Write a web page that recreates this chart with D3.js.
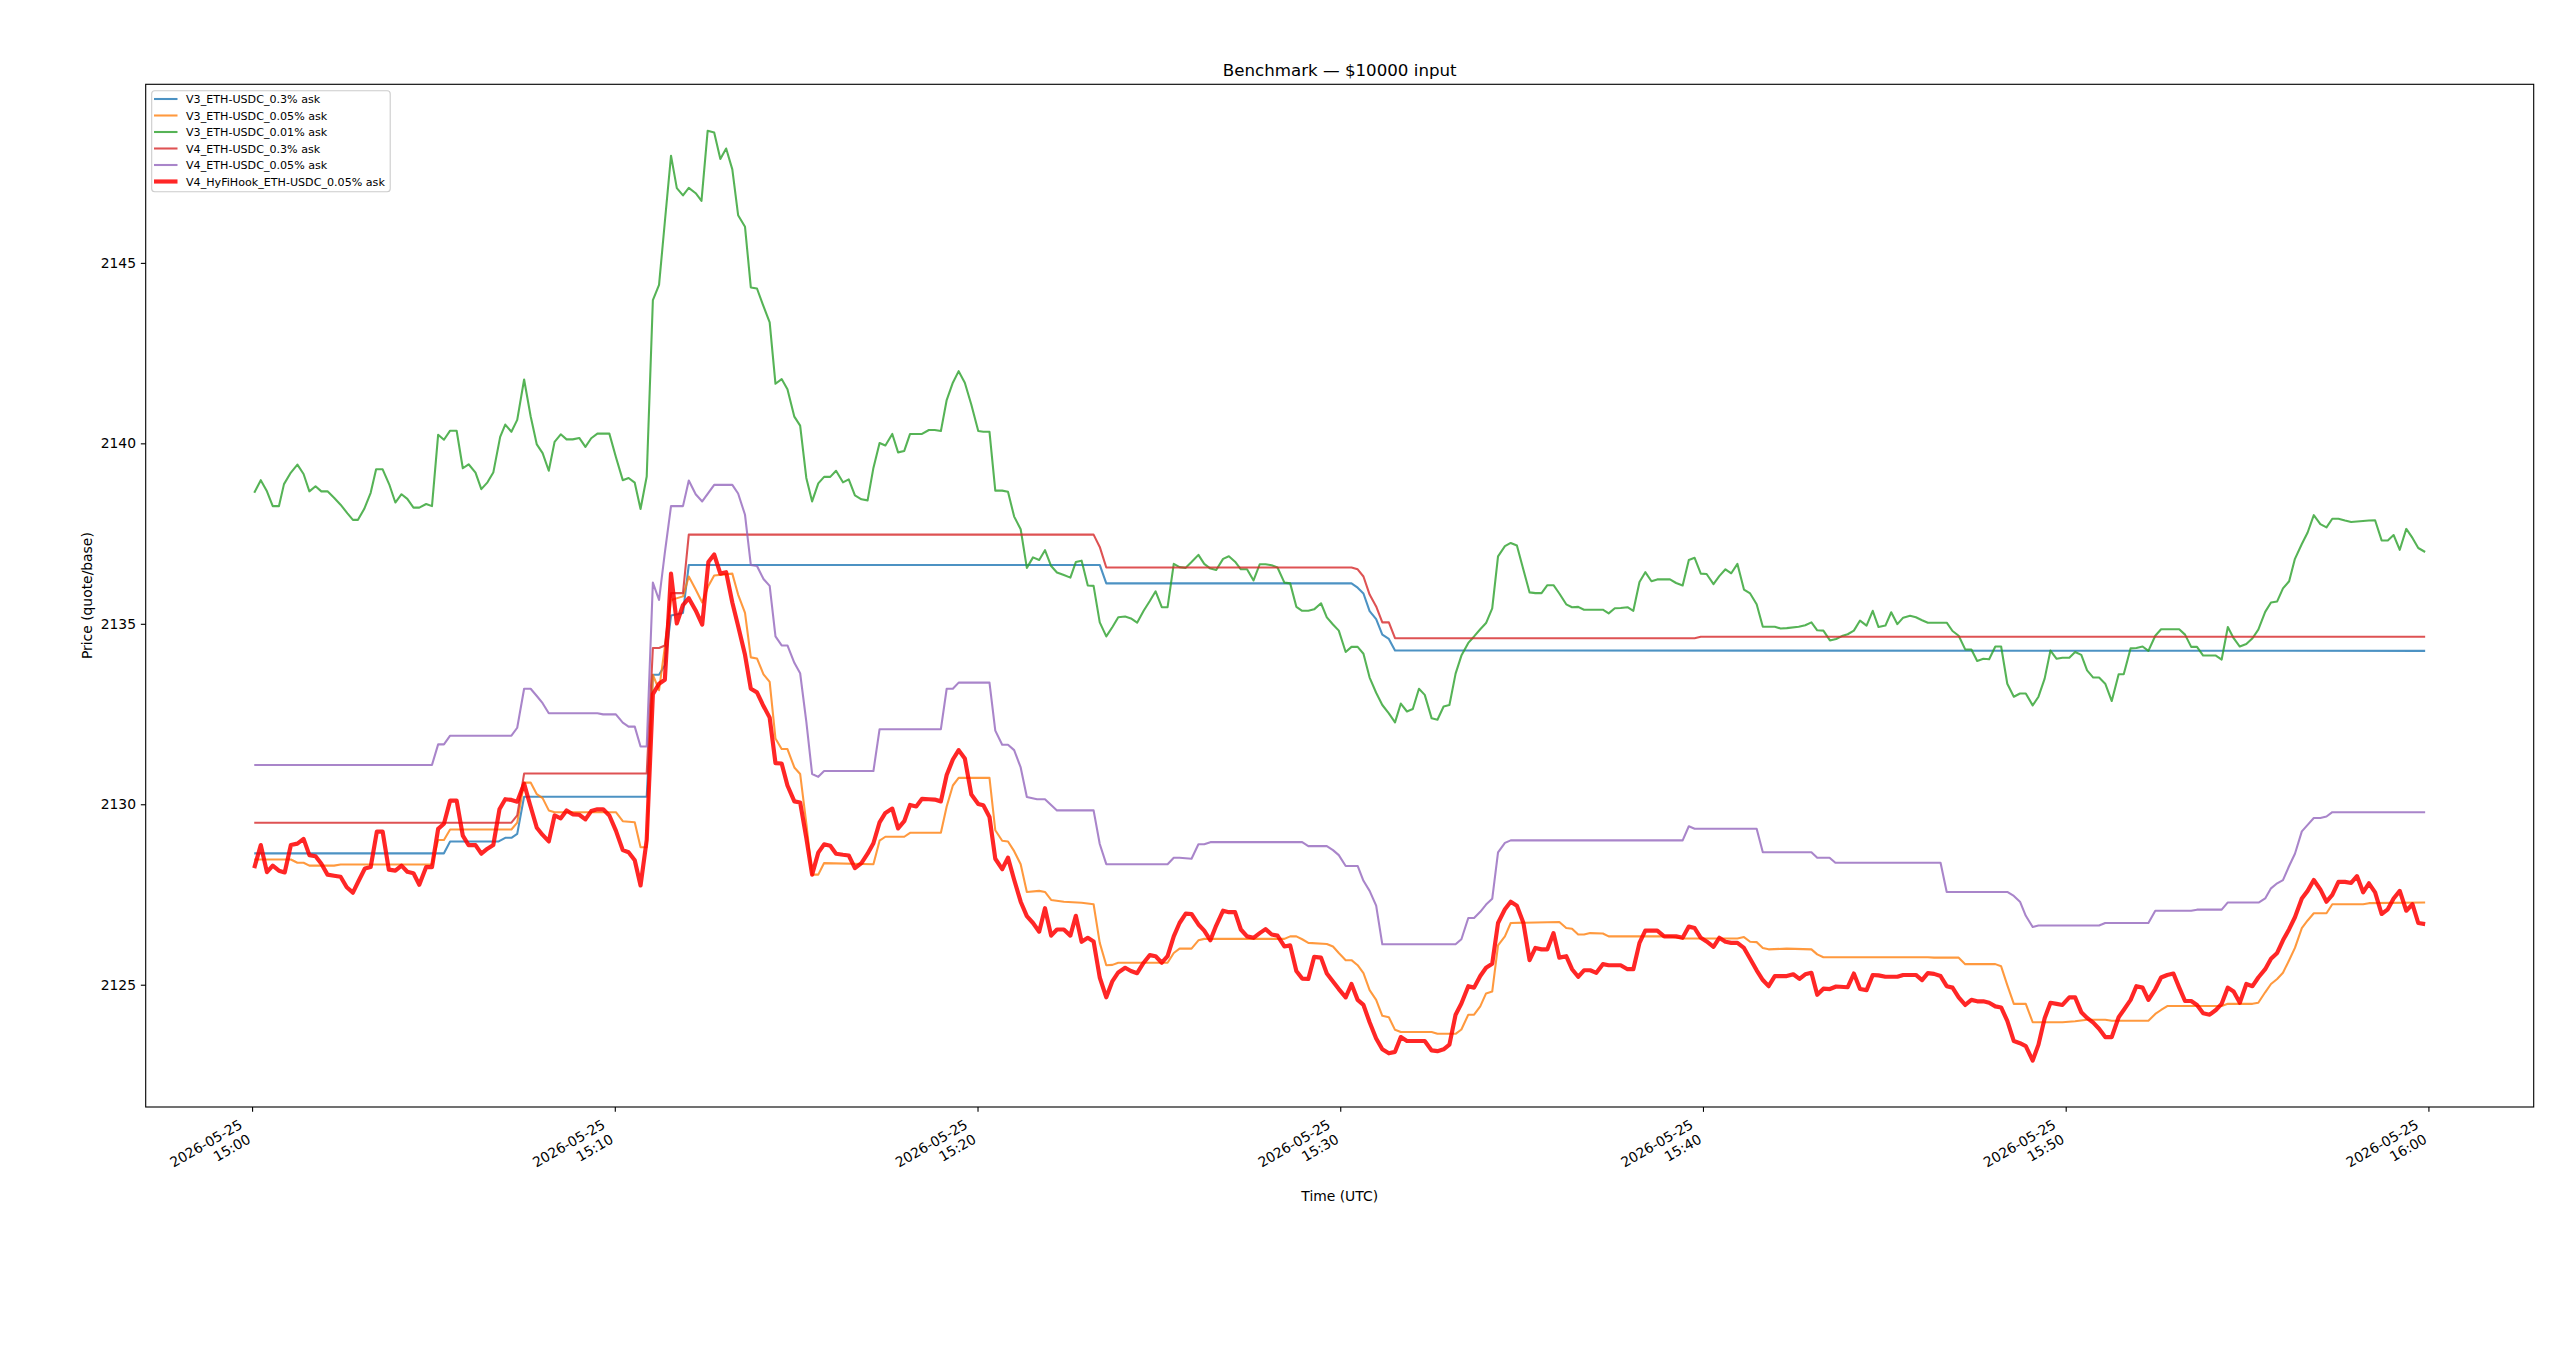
<!DOCTYPE html>
<html>
<head>
<meta charset="utf-8">
<script src="https://cdn.jsdelivr.net/npm/d3@7"></script>
<style>
  html, body { margin: 0; padding: 0; background: #fff; }
  svg { display: block; font-family: "DejaVu Sans", sans-serif; }
</style>
</head>
<body>
<svg id="chart" width="2560" height="1357"></svg>
<script>
// minutes after 2026-05-25 15:00 UTC, price (quote/base)
const v3_03 = [[0.06,2128.64],[5.29,2128.64],[5.46,2128.97],[6.8,2128.97],[6.98,2129.07],[7.15,2129.07],[7.31,2129.18],[7.5,2130.21],[10.88,2130.21],[11.05,2133.59],[11.22,2133.59],[11.38,2133.85],[11.55,2135.23],[11.88,2135.3],[12.04,2136.63],[23.37,2136.63],[23.55,2136.12],[30.31,2136.12],[30.48,2136.0],[30.64,2135.84],[30.81,2135.35],[30.99,2135.13],[31.16,2134.7],[31.34,2134.58],[31.51,2134.26],[59.91,2134.25]];

const v3_005 = [[0.06,2128.47],[1.07,2128.47],[1.25,2128.38],[1.42,2128.38],[1.58,2128.3],[2.26,2128.3],[2.44,2128.33],[4.96,2128.33],[5.13,2129.01],[5.29,2129.01],[5.46,2129.3],[7.15,2129.3],[7.31,2129.49],[7.5,2130.6],[7.68,2130.6],[7.85,2130.28],[8.01,2130.17],[8.18,2129.83],[8.34,2129.78],[10.03,2129.78],[10.22,2129.53],[10.55,2129.5],[10.71,2128.81],[10.88,2128.81],
  [11.05,2133.59],[11.22,2133.16],[11.38,2134.36],[11.55,2135.66],[11.88,2135.76],[12.04,2136.31],[12.23,2135.95],[12.41,2135.59],[12.58,2136.05],[12.74,2136.34],[13.24,2136.39],[13.4,2135.81],[13.59,2135.3],[13.75,2134.07],[13.92,2134.04],[14.1,2133.6],[14.27,2133.39],[14.43,2131.82],[14.6,2131.53],[14.76,2131.53],[14.95,2131.02],[15.11,2130.84],[15.28,2129.47],[15.44,2128.05],[15.61,2128.05],[15.77,2128.37],[17.13,2128.34],[17.3,2128.99],[17.46,2129.1],[17.98,2129.1],[18.14,2129.21],[18.99,2129.21],[19.15,2129.94],[19.32,2130.52],[19.48,2130.73],[20.33,2130.73],[20.49,2129.28],[20.68,2128.99],[20.84,2128.97],[21.01,2128.7],[21.19,2128.34],[21.36,2127.57],
  [21.7,2127.6],[21.86,2127.57],[22.03,2127.35],[22.38,2127.3],[22.87,2127.27],[23.2,2127.23],[23.37,2126.16],[23.55,2125.54],[23.72,2125.55],[23.88,2125.61],[25.24,2125.61],[25.41,2125.88],[25.57,2126.0],[25.9,2126.0],[26.09,2126.23],[26.25,2126.27],[28.46,2126.27],[28.62,2126.34],[28.79,2126.34],[28.95,2126.26],[29.12,2126.16],[29.63,2126.13],[29.8,2126.06],[29.96,2125.88],[30.15,2125.68],[30.31,2125.68],[30.48,2125.54],[30.64,2125.32],[30.81,2124.85],[30.99,2124.58],[31.16,2124.14],[31.34,2124.1],[31.51,2123.75],[31.67,2123.69],
  [32.52,2123.69],[32.68,2123.64],[33.18,2123.64],[33.34,2123.76],[33.53,2124.17],[33.69,2124.17],[33.86,2124.4],[34.02,2124.76],[34.19,2124.81],[34.35,2126.09],[34.54,2126.34],[34.7,2126.71],[36.04,2126.74],[36.23,2126.57],[36.39,2126.55],[36.56,2126.39],[36.72,2126.39],[36.89,2126.43],[37.24,2126.42],[37.4,2126.34],[39.09,2126.34],[39.44,2126.28],[40.95,2126.28],[41.13,2126.32],[41.3,2126.19],[41.48,2126.18],[41.65,2126.02],[41.81,2125.98],[42.31,2126.0],
  [42.99,2125.98],[43.15,2125.84],[43.32,2125.76],[46.2,2125.76],[46.37,2125.75],[47.05,2125.75],[47.23,2125.57],[48.06,2125.57],[48.22,2125.51],[48.39,2124.99],[48.57,2124.47],[48.9,2124.47],[49.09,2123.96],[49.91,2123.96],[50.26,2123.99],[50.59,2124.03],[51.09,2124.03],[51.27,2124.0],[52.28,2124.0],[52.47,2124.19],[52.63,2124.3],[52.8,2124.41],
  [54.3,2124.41],[54.47,2124.47],[55.15,2124.47],[55.31,2124.5],[55.5,2124.79],[55.66,2125.02],[55.83,2125.16],[55.99,2125.33],[56.16,2125.68],[56.32,2126.02],[56.51,2126.57],[56.67,2126.78],[56.84,2126.98],[57.19,2126.98],[57.35,2127.23],[58.2,2127.23],[58.36,2127.26],[59.91,2127.28]];

const v3_001 = [[0.06,2138.63],[0.24,2138.98],[0.41,2138.67],[0.57,2138.26],[0.74,2138.26],[0.88,2138.87],[1.07,2139.19],[1.25,2139.41],[1.42,2139.15],[1.58,2138.67],[1.75,2138.81],[1.91,2138.67],[2.08,2138.67],[2.26,2138.49],[2.44,2138.3],[2.63,2138.06],[2.78,2137.88],[2.92,2137.88],[3.09,2138.18],[3.27,2138.63],[3.42,2139.28],[3.6,2139.28],[3.79,2138.84],[3.95,2138.36],[4.12,2138.59],[4.28,2138.46],[4.45,2138.22],[4.61,2138.22],[4.8,2138.32],[4.96,2138.26],[5.13,2140.24],[5.29,2140.1],[5.46,2140.35],[5.64,2140.35],[5.81,2139.31],[5.97,2139.42],[6.16,2139.19],[6.32,2138.73],[6.49,2138.92],[6.65,2139.19],[6.84,2140.18],[6.98,2140.52],[7.15,2140.32],[7.31,2140.65],[7.5,2141.77],[7.68,2140.75],[7.85,2139.97],[8.01,2139.73],[8.18,2139.24],[8.34,2140.04],[8.51,2140.25],[8.67,2140.11],[8.84,2140.11],[9.02,2140.15],[9.19,2139.9],[9.35,2140.14],[9.52,2140.27],[9.68,2140.27],[9.85,2140.27],[10.03,2139.62],[10.22,2138.98],[10.38,2139.04],[10.55,2138.91],[10.71,2138.18],[10.88,2139.08],
  [11.05,2143.97],[11.22,2144.39],[11.38,2146.14],[11.55,2147.97],[11.71,2147.07],[11.88,2146.87],[12.04,2147.08],[12.23,2146.93],[12.39,2146.72],[12.56,2148.66],[12.74,2148.61],[12.91,2147.88],[13.07,2148.17],[13.24,2147.59],[13.4,2146.32],[13.59,2146.0],[13.75,2144.32],[13.92,2144.29],[14.08,2143.85],[14.27,2143.35],[14.43,2141.65],[14.6,2141.78],[14.76,2141.5],[14.95,2140.74],[15.11,2140.49],[15.28,2139.04],[15.44,2138.39],[15.61,2138.89],[15.77,2139.07],[15.94,2139.07],[16.1,2139.24],[16.29,2138.92],[16.45,2139.0],[16.62,2138.56],[16.8,2138.45],[16.97,2138.42],[17.13,2139.32],[17.3,2140.01],[17.46,2139.94],[17.65,2140.26],[17.81,2139.75],[17.98,2139.79],[18.14,2140.26],[18.31,2140.26],[18.47,2140.26],[18.66,2140.37],[18.82,2140.37],[18.99,2140.34],[19.15,2141.2],[19.32,2141.68],[19.48,2142.0],[19.65,2141.68],[19.83,2141.07],[20.02,2140.34],[20.16,2140.32],[20.33,2140.32],[20.49,2138.69],[20.68,2138.69],[20.84,2138.66],[21.01,2137.97],[21.19,2137.62],[21.36,2136.55],[21.53,2136.84],
  [21.7,2136.77],[21.86,2137.04],[22.03,2136.6],[22.19,2136.42],[22.38,2136.35],[22.56,2136.28],[22.71,2136.71],[22.87,2136.75],[23.04,2136.06],[23.2,2136.05],[23.37,2135.04],[23.55,2134.65],[23.72,2134.91],[23.88,2135.18],[24.07,2135.2],[24.23,2135.15],[24.4,2135.03],[24.58,2135.36],[24.75,2135.63],[24.91,2135.9],[25.08,2135.46],[25.24,2135.46],[25.41,2136.66],[25.57,2136.57],[25.74,2136.55],[25.9,2136.71],[26.09,2136.91],[26.25,2136.66],[26.42,2136.53],[26.58,2136.49],[26.77,2136.8],[26.93,2136.87],[27.1,2136.72],[27.26,2136.51],[27.43,2136.51],[27.61,2136.2],[27.78,2136.65],[27.94,2136.65],[28.11,2136.62],[28.27,2136.56],[28.46,2136.14],[28.62,2136.12],[28.79,2135.47],[28.95,2135.36],[29.12,2135.36],[29.28,2135.4],[29.47,2135.57],[29.63,2135.18],[29.8,2134.98],[29.96,2134.81],[30.15,2134.22],[30.31,2134.36],[30.48,2134.36],[30.64,2134.17],[30.81,2133.51],[30.99,2133.09],[31.16,2132.75],[31.34,2132.52],[31.51,2132.27],[31.67,2132.79],[31.84,2132.57],[32.0,2132.64],
  [32.17,2133.2],[32.33,2133.03],[32.52,2132.38],[32.68,2132.34],[32.85,2132.71],[33.01,2132.75],[33.18,2133.62],[33.34,2134.12],[33.53,2134.47],[33.69,2134.65],[33.86,2134.85],[34.02,2135.02],[34.19,2135.43],[34.35,2136.87],[34.54,2137.15],[34.7,2137.24],[34.87,2137.17],[35.05,2136.5],[35.22,2135.87],[35.38,2135.85],[35.55,2135.85],[35.71,2136.07],[35.88,2136.07],[36.04,2135.84],[36.23,2135.54],[36.39,2135.46],[36.56,2135.47],[36.72,2135.39],[37.24,2135.39],[37.4,2135.29],[37.57,2135.43],[37.73,2135.44],[37.92,2135.46],[38.08,2135.36],[38.25,2136.16],[38.41,2136.43],[38.58,2136.18],[38.74,2136.23],[39.09,2136.23],[39.26,2136.13],[39.44,2136.06],[39.61,2136.77],[39.77,2136.83],[39.94,2136.39],[40.1,2136.38],[40.29,2136.1],[40.45,2136.32],[40.62,2136.51],[40.78,2136.4],[40.95,2136.66],[41.13,2135.95],[41.3,2135.84],[41.48,2135.54],[41.65,2134.92],[41.98,2134.92],[42.14,2134.87],[42.31,2134.88],
  [42.64,2134.92],[42.82,2134.96],[42.99,2135.04],[43.15,2134.82],[43.32,2134.81],[43.5,2134.54],[43.67,2134.58],[43.83,2134.66],[43.99,2134.71],[44.16,2134.81],[44.33,2135.09],[44.51,2134.95],[44.68,2135.36],[44.84,2134.91],[45.03,2134.95],[45.19,2135.32],[45.36,2134.99],[45.52,2135.17],[45.71,2135.22],[45.87,2135.18],[46.04,2135.1],[46.2,2135.03],[46.72,2135.03],[46.88,2134.8],[47.05,2134.67],[47.23,2134.29],[47.4,2134.29],[47.56,2133.97],[47.73,2134.03],[47.89,2134.02],[48.06,2134.37],[48.22,2134.37],[48.39,2133.34],[48.57,2132.98],[48.74,2133.07],[48.9,2133.07],[49.09,2132.74],[49.25,2132.98],[49.42,2133.48],[49.58,2134.26],[49.75,2134.03],[49.91,2134.06],[50.1,2134.06],[50.26,2134.22],[50.43,2134.14],[50.59,2133.71],[50.76,2133.51],[50.92,2133.51],[51.09,2133.34],[51.27,2132.86],[51.46,2133.6],[51.6,2133.6],[51.79,2134.32],[51.95,2134.33],[52.12,2134.37],[52.28,2134.25],[52.47,2134.67],[52.63,2134.85],[52.8,2134.85],[53.13,2134.85],
  [53.29,2134.7],[53.46,2134.36],[53.62,2134.36],[53.79,2134.12],[54.14,2134.12],[54.3,2134.01],[54.47,2134.91],[54.63,2134.6],[54.8,2134.37],[54.98,2134.44],[55.15,2134.6],[55.31,2134.84],[55.5,2135.33],[55.66,2135.59],[55.83,2135.62],[55.99,2135.98],[56.16,2136.18],[56.32,2136.8],[56.51,2137.21],[56.67,2137.53],[56.84,2138.01],[57.02,2137.76],[57.19,2137.67],[57.35,2137.91],[57.52,2137.91],[57.7,2137.86],[57.87,2137.82],[58.36,2137.86],[58.53,2137.87],[58.71,2137.31],[58.88,2137.31],[59.04,2137.46],[59.21,2137.05],[59.39,2137.63],[59.56,2137.38],[59.72,2137.1],[59.91,2136.99]];

const v4_03 = [[0.06,2129.49],[7.15,2129.49],[7.31,2129.69],[7.5,2130.85],[10.88,2130.85],[11.05,2134.33],[11.22,2134.33],[11.38,2134.4],[11.55,2135.85],[11.88,2135.85],[12.04,2137.47],[23.2,2137.47],[23.37,2137.13],[23.55,2136.56],[30.31,2136.56],[30.48,2136.51],[30.64,2136.31],[30.81,2135.81],[30.99,2135.48],[31.16,2135.04],[31.34,2135.04],[31.51,2134.6],[39.77,2134.6],[39.94,2134.64],[59.91,2134.64]];

const v4_005 = [[0.06,2131.09],[4.96,2131.09],[5.13,2131.66],[5.29,2131.66],[5.46,2131.9],[7.15,2131.9],[7.31,2132.12],[7.5,2133.2],[7.68,2133.2],[7.85,2133.0],[8.01,2132.8],[8.18,2132.52],[9.52,2132.52],[9.68,2132.49],[10.03,2132.49],[10.22,2132.26],[10.38,2132.15],[10.55,2132.15],[10.71,2131.6],[10.88,2131.6],
  [11.05,2136.14],[11.22,2135.66],[11.38,2136.97],[11.55,2138.26],[11.88,2138.26],[12.04,2138.97],[12.23,2138.59],[12.41,2138.39],[12.58,2138.63],[12.74,2138.85],[13.24,2138.85],[13.4,2138.61],[13.59,2138.02],[13.75,2136.63],[13.92,2136.6],[14.1,2136.24],[14.27,2136.05],[14.43,2134.65],[14.6,2134.4],[14.76,2134.4],[14.95,2133.92],[15.11,2133.63],[15.28,2132.29],[15.44,2130.84],[15.61,2130.76],[15.77,2130.92],[17.13,2130.92],[17.3,2132.08],[18.99,2132.08],[19.15,2133.2],[19.32,2133.2],[19.48,2133.37],[20.33,2133.37],[20.49,2132.04],[20.68,2131.65],[20.84,2131.65],[21.01,2131.5],[21.19,2131.02],[21.36,2130.2],
  [21.64,2130.14],[21.86,2130.14],[22.19,2129.83],[23.2,2129.83],[23.37,2128.9],[23.55,2128.34],[25.24,2128.34],[25.41,2128.52],[25.57,2128.52],[25.9,2128.49],[26.09,2128.89],[26.25,2128.89],[26.42,2128.95],[28.95,2128.95],[29.12,2128.84],[29.63,2128.84],[29.8,2128.73],[29.96,2128.59],[30.15,2128.29],[30.48,2128.29],[30.64,2127.88],[30.81,2127.6],[30.99,2127.19],[31.16,2126.12],
  [33.18,2126.12],[33.34,2126.26],[33.53,2126.85],[33.69,2126.85],[33.86,2127.02],[34.02,2127.22],[34.19,2127.38],[34.35,2128.67],[34.54,2128.93],[34.7,2129.0],[39.44,2129.0],[39.61,2129.39],[39.77,2129.32],[41.48,2129.32],[41.65,2128.67],
  [42.99,2128.67],[43.15,2128.52],[43.49,2128.52],[43.65,2128.38],[46.55,2128.38],[46.72,2127.57],[48.39,2127.57],[48.57,2127.46],[48.74,2127.3],[48.9,2126.91],[49.09,2126.6],[49.25,2126.64],[50.92,2126.64],[51.09,2126.71],[52.28,2126.71],[52.47,2127.05],
  [53.46,2127.05],[53.62,2127.08],[54.3,2127.08],[54.47,2127.28],[55.33,2127.28],[55.5,2127.39],[55.66,2127.67],[55.83,2127.81],[55.99,2127.9],[56.16,2128.29],[56.32,2128.63],[56.51,2129.25],[56.67,2129.43],[56.84,2129.62],[57.02,2129.62],[57.19,2129.66],[57.35,2129.78],[59.91,2129.78]];

const v4_hyfi_005 = [[0.06,2128.23],[0.24,2128.87],[0.41,2128.12],[0.57,2128.3],[0.74,2128.16],[0.9,2128.11],[1.07,2128.87],[1.25,2128.91],[1.42,2129.04],[1.58,2128.59],[1.75,2128.56],[1.91,2128.35],[2.08,2128.05],[2.26,2128.02],[2.44,2127.99],[2.61,2127.7],[2.78,2127.55],[2.94,2127.88],[3.11,2128.22],[3.27,2128.26],[3.44,2129.24],[3.6,2129.24],[3.77,2128.19],[3.95,2128.16],[4.12,2128.3],[4.28,2128.13],[4.45,2128.09],[4.61,2127.77],[4.8,2128.26],[4.96,2128.26],[5.13,2129.32],[5.29,2129.46],[5.46,2130.1],[5.64,2130.1],[5.81,2129.13],[5.97,2128.87],[6.16,2128.87],[6.32,2128.63],[6.49,2128.77],[6.65,2128.87],[6.82,2129.86],[6.98,2130.14],[7.15,2130.12],[7.31,2130.07],[7.5,2130.57],[7.66,2130.0],[7.85,2129.35],[8.01,2129.15],[8.18,2128.97],[8.34,2129.69],[8.51,2129.61],[8.67,2129.83],[8.84,2129.72],[9.02,2129.71],[9.19,2129.58],[9.35,2129.81],[9.52,2129.86],[9.68,2129.86],[9.85,2129.69],[10.03,2129.27],[10.22,2128.73],[10.38,2128.67],[10.55,2128.45],[10.71,2127.75],[10.88,2129.01],
  [11.05,2133.05],[11.22,2133.34],[11.38,2133.45],[11.55,2136.39],[11.71,2135.01],[11.88,2135.52],[12.04,2135.71],[12.23,2135.37],[12.41,2134.98],[12.58,2136.71],[12.74,2136.92],[12.91,2136.39],[13.07,2136.43],[13.24,2135.59],[13.4,2134.94],[13.59,2134.14],[13.75,2133.2],[13.92,2133.1],[14.08,2132.76],[14.27,2132.4],[14.43,2131.14],[14.6,2131.13],[14.76,2130.52],[14.95,2130.08],[15.11,2130.05],[15.28,2129.07],[15.44,2128.05],[15.61,2128.66],[15.77,2128.89],[15.94,2128.85],[16.1,2128.63],[16.29,2128.6],[16.45,2128.58],[16.62,2128.23],[16.8,2128.37],[16.97,2128.63],[17.13,2128.92],[17.3,2129.5],[17.46,2129.76],[17.65,2129.88],[17.81,2129.33],[17.98,2129.53],[18.14,2129.98],[18.31,2129.94],[18.47,2130.15],[18.66,2130.14],[18.82,2130.13],[18.99,2130.08],[19.15,2130.81],[19.32,2131.24],[19.48,2131.5],[19.65,2131.27],[19.83,2130.27],[20.02,2130.01],[20.16,2129.97],[20.33,2129.65],[20.49,2128.49],[20.68,2128.2],[20.84,2128.52],[21.01,2127.91],[21.19,2127.3],
  [21.36,2126.9],[21.53,2126.71],[21.7,2126.47],[21.86,2127.12],[22.03,2126.36],[22.19,2126.53],[22.38,2126.53],[22.56,2126.36],[22.71,2126.91],[22.87,2126.19],[23.04,2126.3],[23.2,2126.2],[23.37,2125.2],[23.55,2124.65],[23.72,2125.1],[23.88,2125.34],[24.07,2125.47],[24.23,2125.38],[24.4,2125.32],[24.58,2125.61],[24.75,2125.82],[24.91,2125.79],[25.08,2125.61],[25.24,2125.79],[25.41,2126.34],[25.57,2126.71],[25.74,2126.97],[25.9,2126.96],[26.09,2126.67],[26.25,2126.5],[26.42,2126.23],[26.58,2126.64],[26.77,2127.05],[26.93,2127.01],[27.1,2127.01],[27.26,2126.53],[27.43,2126.34],[27.61,2126.3],[27.78,2126.43],[27.94,2126.54],[28.11,2126.39],[28.27,2126.36],[28.46,2126.06],[28.62,2126.09],[28.79,2125.38],[28.95,2125.17],[29.12,2125.16],[29.28,2125.77],[29.47,2125.75],[29.63,2125.31],[29.8,2125.09],[29.96,2124.88],[30.15,2124.65],[30.31,2125.02],[30.48,2124.58],[30.64,2124.44],[30.81,2123.96],[30.99,2123.51],[31.16,2123.21],[31.34,2123.1],[31.51,2123.14],[31.67,2123.55],[31.84,2123.44],[32.0,2123.44],[32.17,2123.44],
  [32.33,2123.44],[32.52,2123.18],[32.68,2123.16],[32.85,2123.21],[33.01,2123.34],[33.18,2124.17],[33.34,2124.48],[33.53,2124.96],[33.69,2124.92],[33.86,2125.24],[34.02,2125.47],[34.19,2125.58],[34.35,2126.71],[34.54,2127.09],[34.7,2127.3],[34.87,2127.19],[35.05,2126.71],[35.22,2125.68],[35.38,2126.02],[35.55,2125.98],[35.71,2125.98],[35.88,2126.43],[36.04,2125.75],[36.23,2125.79],[36.39,2125.43],[36.56,2125.22],[36.72,2125.4],[36.89,2125.4],[37.06,2125.33],[37.24,2125.57],[37.4,2125.54],[37.73,2125.54],[37.92,2125.43],[38.08,2125.43],[38.25,2126.16],[38.41,2126.5],[38.74,2126.5],[38.93,2126.34],[39.26,2126.34],[39.44,2126.3],[39.61,2126.61],[39.77,2126.57],[39.94,2126.3],[40.1,2126.2],[40.29,2126.05],[40.45,2126.3],[40.62,2126.19],[40.78,2126.16],[40.95,2126.16],[41.13,2126.02],[41.3,2125.72],[41.48,2125.4],[41.65,2125.13],[41.81,2124.96],[41.98,2125.24],[42.31,2125.24],[42.49,2125.29],
  [42.66,2125.16],[42.82,2125.29],[42.99,2125.33],[43.15,2124.72],[43.32,2124.89],[43.5,2124.88],[43.67,2124.95],[43.99,2124.93],[44.16,2125.31],[44.33,2124.88],[44.51,2124.85],[44.68,2125.27],[44.84,2125.26],[45.03,2125.22],[45.36,2125.22],[45.52,2125.27],[45.87,2125.27],[46.04,2125.13],[46.2,2125.32],[46.37,2125.3],[46.55,2125.24],[46.72,2124.96],[46.88,2124.92],[47.05,2124.65],[47.23,2124.44],[47.4,2124.58],[47.56,2124.54],[47.73,2124.54],[47.89,2124.5],[48.06,2124.4],[48.22,2124.37],[48.39,2124.0],[48.57,2123.44],[48.74,2123.38],[48.9,2123.3],[49.09,2122.9],[49.25,2123.34],[49.42,2124.07],[49.58,2124.5],[49.75,2124.47],[49.91,2124.44],[50.1,2124.65],[50.26,2124.65],[50.43,2124.24],[50.59,2124.08],[50.76,2123.95],[50.92,2123.78],[51.09,2123.55],[51.27,2123.55],[51.46,2124.1],[51.6,2124.3],[51.79,2124.58],[51.95,2124.96],[52.12,2124.92],[52.28,2124.58],[52.47,2124.88],[52.63,2125.2],[52.8,2125.27],[52.97,2125.31],
  [53.13,2124.92],[53.29,2124.55],[53.46,2124.55],[53.62,2124.44],[53.79,2124.21],[53.97,2124.17],[54.14,2124.3],[54.3,2124.47],[54.47,2124.92],[54.63,2124.81],[54.8,2124.5],[54.98,2125.02],[55.15,2124.96],[55.31,2125.2],[55.5,2125.43],[55.66,2125.72],[55.83,2125.88],[55.99,2126.23],[56.16,2126.54],[56.32,2126.87],[56.51,2127.39],[56.67,2127.6],[56.84,2127.9],[57.02,2127.64],[57.19,2127.3],[57.35,2127.49],[57.52,2127.85],[57.7,2127.85],[57.87,2127.82],[58.03,2128.01],[58.2,2127.56],[58.36,2127.81],[58.53,2127.56],[58.71,2126.96],[58.88,2127.09],[59.04,2127.39],[59.21,2127.6],[59.39,2127.05],[59.56,2127.23],[59.72,2126.71],[59.91,2126.68]];

const seriesNames = [
  "V3_ETH-USDC_0.3% ask",
  "V3_ETH-USDC_0.05% ask",
  "V3_ETH-USDC_0.01% ask",
  "V4_ETH-USDC_0.3% ask",
  "V4_ETH-USDC_0.05% ask",
  "V4_HyFiHook_ETH-USDC_0.05% ask"
];
const seriesValues = [v3_03, v3_005, v3_001, v4_03, v4_005, v4_hyfi_005];
const priceTicks = [2125, 2130, 2135, 2140, 2145];
const startTime = Date.UTC(2026, 4, 25, 15, 0, 0);

// line styles (tab10 + plain red, matplotlib-like)
const styles = [
  { color: "#1f77b4", width: 2.08, alpha: 0.8 },
  { color: "#ff7f0e", width: 2.08, alpha: 0.8 },
  { color: "#2ca02c", width: 2.08, alpha: 0.8 },
  { color: "#d62728", width: 2.08, alpha: 0.8 },
  { color: "#9467bd", width: 2.08, alpha: 0.8 },
  { color: "#ff0000", width: 4.17, alpha: 0.85 }
];

const svg = d3.select("#chart");
const plotL = 145.7, plotR = 2533.7, plotT = 84.3, plotB = 1107;
const fontTick = 13.89;

const series = seriesValues.map((vals, i) => ({
  name: seriesNames[i],
  points: vals.map(([m, p]) => ({ t: new Date(startTime + m * 60000), p }))
}));

const allPts = series.flatMap(s => s.points);
const [t0, t1] = d3.extent(allPts, d => +d.t);
const [p0, p1] = d3.extent(allPts, d => d.p);
const tPad = (t1 - t0) * 0.05, pPad = (p1 - p0) * 0.05;

const x = d3.scaleUtc().domain([new Date(t0 - tPad), new Date(t1 + tPad)]).range([plotL, plotR]);
const y = d3.scaleLinear().domain([p0 - pPad, p1 + pPad]).range([plotB, plotT]);

const line = d3.line().x(d => x(d.t)).y(d => y(d.p));

svg.append("defs").append("clipPath").attr("id", "plotclip")
  .append("rect").attr("x", plotL).attr("y", plotT).attr("width", plotR - plotL).attr("height", plotB - plotT);

const plot = svg.append("g").attr("clip-path", "url(#plotclip)");
plot.selectAll("path.series")
  .data(series)
  .join("path")
  .attr("class", "series")
  .attr("d", d => line(d.points))
  .attr("fill", "none")
  .attr("stroke", (d, i) => styles[i].color)
  .attr("stroke-width", (d, i) => styles[i].width)
  .attr("stroke-opacity", (d, i) => styles[i].alpha)
  .attr("stroke-linejoin", "round")
  .attr("stroke-linecap", "butt");

// x axis
const xTicks = x.ticks(d3.utcMinute.every(10));
const xAxis = svg.append("g")
  .attr("transform", `translate(0,${plotB})`)
  .call(d3.axisBottom(x).tickValues(xTicks).tickSize(4.86).tickFormat(() => ""));
xAxis.select(".domain").remove();
xAxis.selectAll(".tick line").attr("stroke", "#000").attr("stroke-width", 1.11);

const fmtDate = d3.utcFormat("%Y-%m-%d"), fmtTime = d3.utcFormat("%H:%M");
const xLabels = svg.append("g")
  .selectAll("g")
  .data(xTicks)
  .join("g")
  .attr("transform", d => `translate(${x(d) - 15},${plotB + 9.7}) rotate(-30)`);
xLabels.append("text")
  .attr("text-anchor", "end")
  .attr("font-size", fontTick)
  .attr("fill", "#000")
  .selectAll("tspan")
  .data(d => [fmtDate(d), fmtTime(d)])
  .join("tspan")
  .attr("x", 0)
  .attr("y", (d, i) => 12.5 + i * 16.7)
  .text(d => d);

// y axis
const yAxis = svg.append("g")
  .attr("transform", `translate(${plotL},0)`)
  .call(d3.axisLeft(y).tickValues(priceTicks).tickSize(4.86).tickPadding(4.86).tickFormat(d3.format("d")));
yAxis.select(".domain").remove();
yAxis.selectAll(".tick line").attr("stroke", "#000").attr("stroke-width", 1.11);
yAxis.selectAll(".tick text")
  .attr("font-size", fontTick)
  .attr("font-family", "DejaVu Sans")
  .attr("fill", "#000");

// frame
svg.append("rect")
  .attr("x", plotL).attr("y", plotT)
  .attr("width", plotR - plotL).attr("height", plotB - plotT)
  .attr("fill", "none").attr("stroke", "#000").attr("stroke-width", 1.11);

// labels
svg.append("text")
  .attr("x", (plotL + plotR) / 2).attr("y", 76)
  .attr("text-anchor", "middle").attr("font-size", 16.67)
  .text("Benchmark \u2014 $10000 input");

svg.append("text")
  .attr("x", (plotL + plotR) / 2).attr("y", 1201)
  .attr("text-anchor", "middle").attr("font-size", fontTick)
  .text("Time (UTC)");

svg.append("text")
  .attr("transform", `translate(92,${(plotT + plotB) / 2}) rotate(-90)`)
  .attr("text-anchor", "middle").attr("font-size", fontTick)
  .text("Price (quote/base)");

// legend
const legend = svg.append("g");
legend.append("rect")
  .attr("x", 151.7).attr("y", 90.7)
  .attr("width", 238.5).attr("height", 101)
  .attr("rx", 3).attr("ry", 3)
  .attr("fill", "#fff").attr("fill-opacity", 0.8)
  .attr("stroke", "#cccccc").attr("stroke-width", 1.11);

const items = legend.selectAll("g.item")
  .data(series)
  .join("g")
  .attr("class", "item")
  .attr("transform", (d, i) => `translate(0,${99 + i * 16.5})`);
items.append("line")
  .attr("x1", 154).attr("x2", 177.5)
  .attr("stroke", (d, i) => styles[i].color)
  .attr("stroke-width", (d, i) => styles[i].width)
  .attr("stroke-opacity", (d, i) => styles[i].alpha);
items.append("text")
  .attr("x", 186).attr("dy", "0.36em")
  .attr("font-size", 11.11)
  .text(d => d.name);
</script>
</body>
</html>
